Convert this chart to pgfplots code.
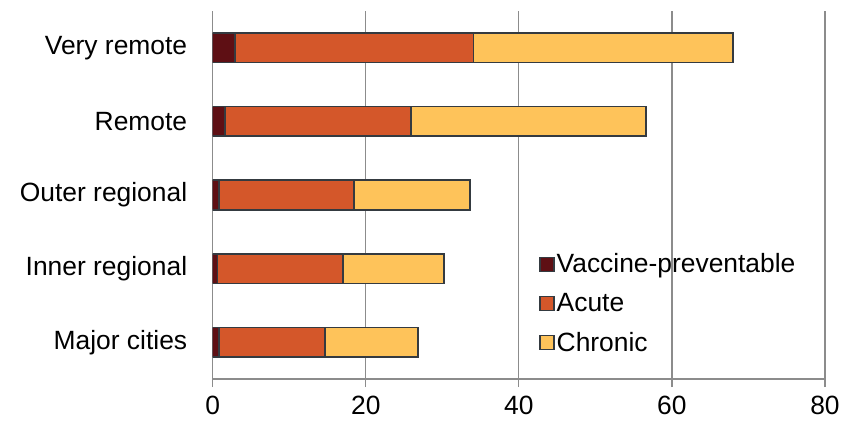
\documentclass[border=0pt]{standalone}
\usepackage{fontspec}
\setmainfont{Liberation Sans}
\usepackage{pgfplots}
\pgfplotsset{compat=1.18}

\definecolor{vacc}{HTML}{5E0F14}
\definecolor{acute}{HTML}{D4572A}
\definecolor{chronic}{HTML}{FEC35A}
\definecolor{edge}{HTML}{343A40}
\definecolor{gridc}{HTML}{8C8C8C}

\begin{document}
\begin{tikzpicture}
\begin{axis}[
    xbar stacked,
    bar width=29.5bp,
    width=612.3bp, height=368bp,
    scale only axis,
    xmin=0, xmax=80,
    ymin=-0.5, ymax=4.5,
    xtick={0,20,40,60,80},
    ytick={0,1,2,3,4},
    yticklabels={Major cities, Inner regional, Outer regional, Remote, Very remote},
    axis lines*=left,
    axis line style={gridc, line width=1.3pt, -},
    xmajorgrids,
    grid style={gridc, line width=1.3pt},
    x tick style={gridc, line width=1.3pt},
    major tick length=8bp,
    xtick pos=bottom,
    tick align=outside,
    y tick style={draw=none},
    font=\fontsize{26.5}{30}\selectfont,
    /pgf/number format/assume math mode=true,
    xticklabel style={yshift=-6bp},
    yticklabel style={xshift=-14bp},
    legend style={at={(axis cs:42.66,1.23)}, anchor=north west, draw=none, fill=none,
        font=\fontsize{26.5}{30}\selectfont, row sep=15bp, inner sep=0pt},
    legend cell align=left,
    legend image code/.code={\draw[#1, line width=1.3pt] (-3bp,-7bp) rectangle (11bp,7bp);},
]
\addplot[fill=vacc, draw=edge, line width=1.6pt] coordinates {(0.8,0) (0.65,1) (0.8,2) (1.6,3) (2.9,4)};
\addplot[fill=acute, draw=edge, line width=1.6pt] coordinates {(13.9,0) (16.35,1) (17.7,2) (24.3,3) (31.2,4)};
\addplot[fill=chronic, draw=edge, line width=1.6pt] coordinates {(12.1,0) (13.2,1) (15.1,2) (30.7,3) (33.9,4)};
\legend{Vaccine-preventable, Acute, Chronic}
\end{axis}
\pgfresetboundingbox
\path[use as bounding box] ([shift={(-212.7bp,-43bp)}]current axis.south west) rectangle ([shift={(644.3bp,379bp)}]current axis.south west);
\end{tikzpicture}
\end{document}
